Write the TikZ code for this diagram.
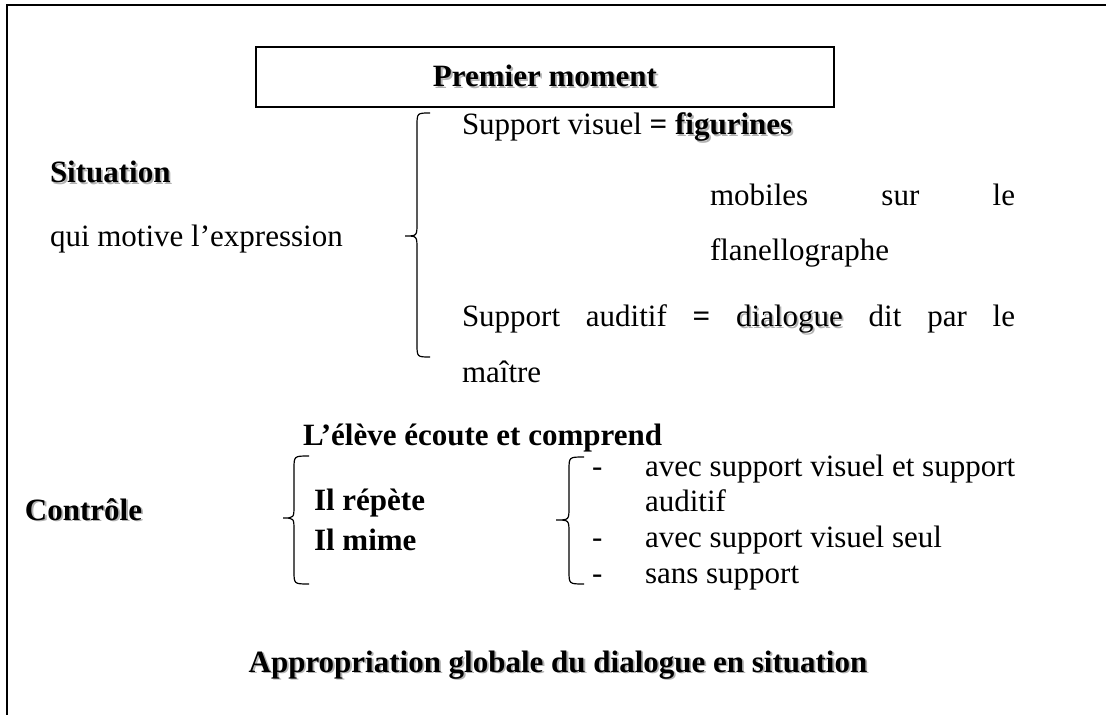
\documentclass[tikz,border=0pt]{standalone}
\usepackage{fontspec}
\setmainfont{Liberation Serif}
\usepackage{xcolor}

% bold text with a soft grey drop shadow
\newcommand\shadowed[1]{\leavevmode\rlap{\kern0.9pt\raisebox{-0.9pt}{\textcolor{black!30}{#1}}}#1}
% heavy equals sign
\newcommand\eqsign{\textbf{=}}

% curly brace opening to the right: end x, body x, tip x, top y, cusp y, bottom y
\newcommand\drawbrace[6]{%
  \draw[bracestroke] (#1,#4) .. controls (#2,#4) .. (#2,#4+13)
    -- (#2,#5-13) .. controls (#2,#5) .. (#3,#5)
    .. controls (#2,#5) .. (#2,#5+13)
    -- (#2,#6-13) .. controls (#2,#6) .. (#1,#6);}

\tikzset{
  txt/.style={anchor=base west, inner sep=0pt, outer sep=0pt},
  titlebox/.style={draw, line width=0.75pt, minimum width=289pt, minimum height=30pt, inner sep=0pt},
  bracestroke/.style={line width=0.6pt},
  frameline/.style={line width=1.1pt}
}

\begin{document}
\begin{tikzpicture}[x=0.5pt, y=-0.5pt, font=\fontsize{15.5}{18}\selectfont]
\useasboundingbox (0,0) rectangle (1106,715);

% outer frame (only its top and left sides fall inside the page)
\draw[frameline] (7,720) -- (7,5) -- (1112,5);

% title box
\node[titlebox] (title) at (545,77) {\shadowed{\textbf{Premier moment}}};

% first moment: situation and its supports
\node[txt] (situation) at (50,183) {\shadowed{\textbf{Situation}}};
\node[txt] (motive) at (50,247) {qui motive l'expression};
\drawbrace{430}{417}{405}{113}{236}{357}
\node[txt] (visuel) at (462,135) {Support visuel \eqsign{} \shadowed{\textbf{figurines}}};
\node[txt] (mobiles) at (710,206) {\makebox[152.5pt][s]{mobiles\hfill sur\hfill le}};
\node[txt] (flanel) at (710,261) {flanellographe};
\node[txt] (auditif) at (462,327) {\makebox[276.5pt][s]{Support\hfill auditif\hfill \eqsign\hfill \shadowed{dialogue}\hfill dit\hfill par\hfill le}};
\node[txt] (maitre) at (462,383) {maître};

% control
\node[txt] (ecoute) at (303,445) {\textbf{L’élève écoute et comprend}};
\node[txt] (controle) at (25,520) {\shadowed{\textbf{Contrôle}}};
\drawbrace{309}{294}{283}{456}{518}{584}
\node[txt] (repete) at (314,510) {\textbf{Il répète}};
\node[txt] (mime) at (314,550) {\textbf{Il mime}};
\drawbrace{584}{569}{556}{457}{520}{584}
\node[txt] (d1) at (592,476) {-};
\node[txt] (i1) at (645,476) {avec support visuel et support};
\node[txt] (i1b) at (645,511) {auditif};
\node[txt] (d2) at (592,547) {-};
\node[txt] (i2) at (645,547) {avec support visuel seul};
\node[txt] (d3) at (592,583) {-};
\node[txt] (i3) at (645,583) {sans support};

% conclusion
\node[anchor=base, inner sep=0pt] (approp) at (558,672) {\shadowed{\textbf{Appropriation globale du dialogue en situation}}};
\end{tikzpicture}
\end{document}
